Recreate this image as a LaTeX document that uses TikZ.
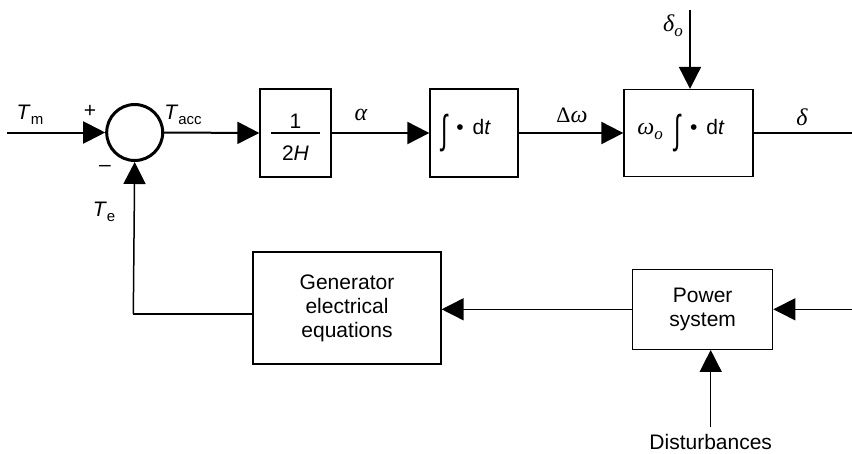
\documentclass[tikz,border=0pt]{standalone}
\usepackage{fontspec}
\setmainfont{Liberation Sans}
\newfontfamily\grk{Liberation Serif}
\usetikzlibrary{arrows.meta}

% small lowered subscript
\newcommand{\lowsub}[1]{\raisebox{-0.45ex}{\fontsize{15}{15}\selectfont #1}}
% italic serif Greek, a little larger than the sans text
\newcommand{\grkit}[1]{{\fontsize{24}{24}\grk\itshape #1}}
% tall upright integral sign
\newcommand{\integ}{\raisebox{-0.42em}{\scalebox{1.1}[1.9]{∫}}}

\begin{document}
\begin{tikzpicture}[x=1pt,y=-1pt,
  font=\fontsize{21}{24}\selectfont,
  blk/.style={draw, line width=1.3pt, rectangle, inner sep=0pt},
  sig/.style={line width=2pt, -{Triangle[length=22pt,width=22pt]}},
  thinsig/.style={line width=1.5pt, -{Triangle[length=22pt,width=22pt]}},
  wire/.style={line width=1.3pt},
  lbl/.style={inner sep=0pt}]
\useasboundingbox (0,0) rectangle (852,453);

% forward path blocks
\node[circle, draw, line width=3pt, minimum size=56pt, inner sep=0pt] (sum) at (134.7,132.5) {};
\node[blk, minimum width=71pt, minimum height=88pt] (b1) at (295.5,133) {};
\node[blk, minimum width=88pt, minimum height=88pt] (b2) at (474,133) {};
\node[blk, minimum width=129pt, minimum height=87pt] (b3) at (688.5,133) {};

% block contents
\node[lbl] (one) at (295.5,121) {1};
\node[lbl] (twoH) at (295.5,153) {2\textit{H}};
\draw[line width=1.2pt] (271,133) -- (320,133);
\node[lbl] (int1) at (466,133) {\integ\hspace{9pt}•\hspace{9pt}d\textit{t}};
\node[lbl] (int2) at (681,133) {\grkit{ω}\lowsub{\grkit{\fontsize{17}{17}\selectfont o}}\hspace{12pt}\integ\hspace{9pt}•\hspace{9pt}d\textit{t}};

% feedback blocks
\node[blk, minimum width=188pt, minimum height=112pt, align=center] (gen) at (347,308)
  {Generator\\electrical\\equations};
\node[blk, minimum width=140pt, minimum height=80pt, align=center] (ps) at (702.7,309.3)
  {Power\\system};

% free ends
\coordinate (tmin) at (7,132.5);
\coordinate (d0) at (690,10);
\coordinate (dout) at (852,133);
\coordinate (psin) at (852,309.3);
\coordinate (dist) at (710.7,427);
\coordinate (corner) at (133.3,314);

% connectors
\draw[sig] (tmin) -- (sum.west);
\draw[sig] (sum.east) -- (b1.west);
\draw[sig] (b1.east) -- (b2.west);
\draw[sig] (b2.east) -- (b3.west);
\draw[sig] (d0) -- (d0 |- b3.north);
\draw[wire] (b3.east) -- (dout);
\draw[thinsig] (psin) -- (ps.east);
\draw[thinsig] (ps.west) -- (ps.west -| gen.east);
\draw[thinsig] (dist) -- (dist |- ps.south);
\draw[wire] (gen.west |- corner) -- (corner);
\draw[thinsig] (corner) -- (sum.south);

% signal labels
\node[lbl] (tm) at (30,115) {\textit{T}\lowsub{m}};
\node[lbl] (plus) at (90,111) {+};
\node[lbl] (minus) at (105,168) {–};
\node[lbl] (te) at (104,212) {\textit{T}\lowsub{e}};
\node[lbl] (tacc) at (183,115) {\textit{T}\lowsub{acc}};
\node[lbl] (alpha) at (361,115) {\grkit{α}};
\node[lbl] (dw) at (572,115) {{\fontsize{22}{22}\grk Δ}\grkit{ω}};
\node[lbl] (delta0) at (673,26) {\grkit{δ}\lowsub{\grkit{\fontsize{17}{17}\selectfont o}}};
\node[lbl] (delta) at (802,117) {\grkit{δ}};
\node[lbl] (distlbl) at (710.7,442) {Disturbances};
\end{tikzpicture}
\end{document}
